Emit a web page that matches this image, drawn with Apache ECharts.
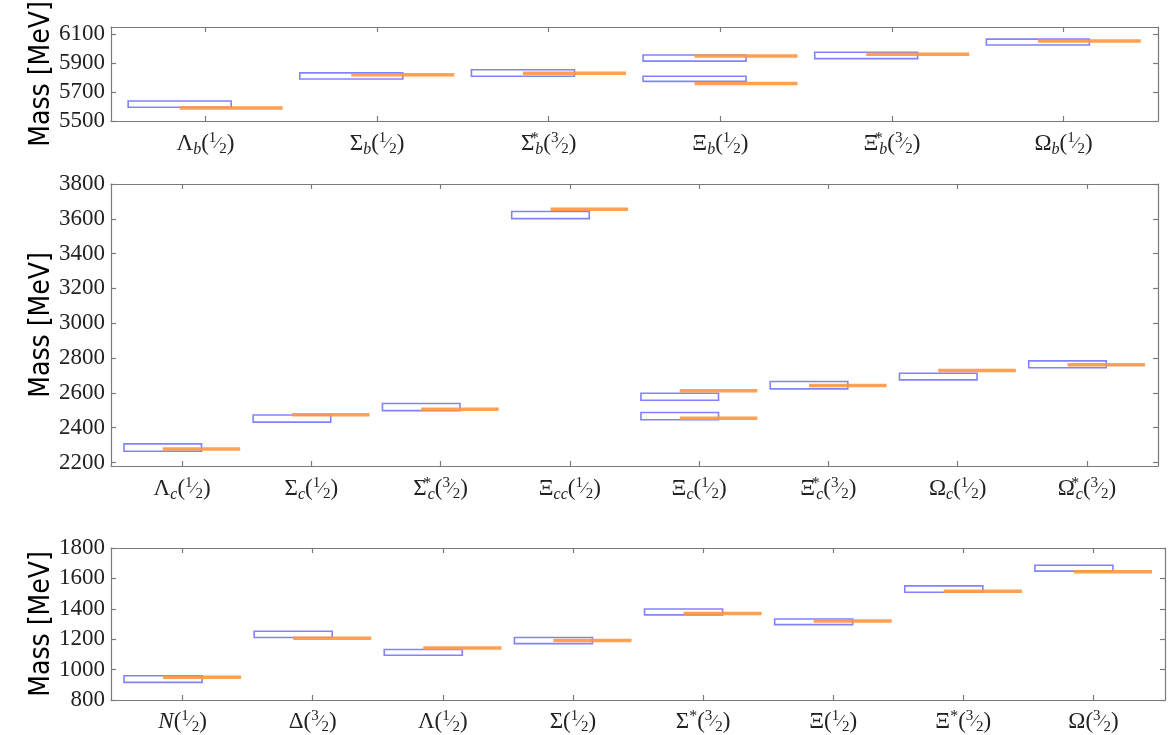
<!DOCTYPE html>
<html>
<head>
<meta charset="utf-8">
<script src="https://cdn.jsdelivr.net/npm/echarts@6/dist/echarts.min.js"></script>
<style>
html,body{margin:0;padding:0;background:#fff;}
#chart{width:1170px;height:735px;}
</style>
</head>
<body>
<div id="chart"></div>
<script>
// ---------- DATA ----------
// Bottom-quark baryons (top panel)
const topLabels = [
  '{g|Λ}{sb|b}{g|(}{n|1}{f|⁄}{d|2}{g|)}',
  '{g|Σ}{sb|b}{g|(}{n|1}{f|⁄}{d|2}{g|)}',
  '{g|Σ}{st|*}{sb|b}{g|(}{n|3}{f|⁄}{d|2}{g|)}',
  '{g|Ξ}{sb|b}{g|(}{n|1}{f|⁄}{d|2}{g|)}',
  '{g|Ξ}{st|*}{sb|b}{g|(}{n|3}{f|⁄}{d|2}{g|)}',
  '{g|Ω}{sb|b}{g|(}{n|1}{f|⁄}{d|2}{g|)}'
];
// lattice bands: [category index, low, high]
const topBands = [[0,5595,5638],[1,5790,5833],[2,5809,5854],[3,5914,5956],[3,5774,5809],[4,5931,5975],[5,6026,6066]];
// experiment: [category index, mass]
const topExp = [[0,5590],[1,5819],[2,5830],[3,5949],[3,5760],[4,5961],[5,6054]];
const topTicks = [5500,5700,5900,6100];

// Charm baryons (middle panel)
const midLabels = [
  '{g|Λ}{sb|c}{g|(}{n|1}{f|⁄}{d|2}{g|)}',
  '{g|Σ}{sb|c}{g|(}{n|1}{f|⁄}{d|2}{g|)}',
  '{g|Σ}{st|*}{sb|c}{g|(}{n|3}{f|⁄}{d|2}{g|)}',
  '{g|Ξ}{sb|cc}{g|(}{n|1}{f|⁄}{d|2}{g|)}',
  '{g|Ξ}{sb|c}{g|(}{n|1}{f|⁄}{d|2}{g|)}',
  '{g|Ξ}{st|*}{sb|c}{g|(}{n|3}{f|⁄}{d|2}{g|)}',
  '{g|Ω}{sb|c}{g|(}{n|1}{f|⁄}{d|2}{g|)}',
  '{g|Ω}{st|*}{sb|c}{g|(}{n|3}{f|⁄}{d|2}{g|)}'
];
const midBands = [[0,2265,2307],[1,2432,2473],[2,2498,2539],[3,3601,3642],[4,2558,2598],[4,2446,2487],[5,2623,2665],[6,2675,2713],[7,2744,2784]];
const midExp = [[0,2278],[1,2475],[2,2506],[3,3655],[4,2613],[4,2455],[5,2642],[6,2729],[7,2761]];
const midTicks = [2200,2400,2600,2800,3000,3200,3400,3600,3800];

// Light baryons (bottom panel)
const botLabels = [
  '{it|N}{g|(}{n|1}{f|⁄}{d|2}{g|)}',
  '{g|Δ(}{n|3}{f|⁄}{d|2}{g|)}',
  '{g|Λ(}{n|1}{f|⁄}{d|2}{g|)}',
  '{g|Σ(}{n|1}{f|⁄}{d|2}{g|)}',
  '{g|Σ}{sp|*}{g|(}{n|3}{f|⁄}{d|2}{g|)}',
  '{g|Ξ(}{n|1}{f|⁄}{d|2}{g|)}',
  '{g|Ξ}{sp|*}{g|(}{n|3}{f|⁄}{d|2}{g|)}',
  '{g|Ω(}{n|3}{f|⁄}{d|2}{g|)}'
];
const botBands = [[0,916,960],[1,1211,1252],[2,1094,1132],[3,1171,1211],[4,1360,1399],[5,1296,1333],[6,1509,1551],[7,1648,1687]];
const botExp = [[0,949],[1,1206],[2,1142],[3,1191],[4,1369],[5,1320],[6,1516],[7,1643]];
const botTicks = [800,1000,1200,1400,1600,1800];

// ---------- STYLE / LAYOUT ----------
const SERIF = 'Liberation Serif';
const AXIS_COLOR = '#7a7a7a';
const BAND_COLOR = '#8282ff';
const EXP_COLOR = '#ff963f';

const rich = {
  g:  {fontFamily: SERIF, fontSize: 23, color: '#222'},
  it: {fontFamily: SERIF, fontSize: 23, fontStyle: 'italic', color: '#222'},
  sb: {fontFamily: SERIF, fontSize: 16, fontStyle: 'italic', color: '#222', padding: [12,0,0,0]},
  st: {fontFamily: SERIF, fontSize: 16, color: '#222', padding: [0,0,10,0], width: 1},
  sp: {fontFamily: SERIF, fontSize: 16, color: '#222', padding: [0,0,10,0]},
  n:  {fontFamily: SERIF, fontSize: 15, color: '#222', padding: [0,0,11,0]},
  f:  {fontFamily: SERIF, fontSize: 17, color: '#222'},
  d:  {fontFamily: SERIF, fontSize: 15, color: '#222', padding: [11,0,0,0]}
};

const panels = [
  {labels: topLabels, bands: topBands, exp: topExp, ticks: topTicks, ymin: 5500, ymax: 6150,
   grid: {left: 111, right: 12, top: 27, height: 94}},
  {labels: midLabels, bands: midBands, exp: midExp, ticks: midTicks, ymin: 2180, ymax: 3800,
   grid: {left: 111, right: 12, top: 184, height: 282}},
  {labels: botLabels, bands: botBands, exp: botExp, ticks: botTicks, ymin: 800, ymax: 1800,
   grid: {left: 111, right: 5, top: 548, height: 152}}
];

const grids = [], xAxes = [], yAxes = [], series = [];
const lineStyle = {color: AXIS_COLOR, width: 1.2};

panels.forEach((p, g) => {
  const n = p.labels.length;
  const idx = p.labels.map((_, i) => i);
  grids.push(Object.assign({containLabel: false, outerBoundsMode: 'none'}, p.grid));
  const xBase = {type: 'value', gridIndex: g, min: -0.55, max: n - 0.45,
    splitLine: {show: false}, axisLine: {show: true, onZero: false, lineStyle}};
  xAxes.push(Object.assign({}, xBase, {
    position: 'bottom',
    axisTick: {show: true, inside: true, length: 5, customValues: idx, lineStyle},
    axisLabel: {show: true, customValues: idx, margin: 9, rich,
      formatter: v => p.labels[Math.round(v)]}
  }));
  xAxes.push(Object.assign({}, xBase, {
    position: 'top',
    axisTick: {show: true, inside: true, length: 5, customValues: idx, lineStyle},
    axisLabel: {show: false}
  }));
  const yBase = {type: 'value', gridIndex: g, min: p.ymin, max: p.ymax,
    splitLine: {show: false}, axisLine: {show: true, onZero: false, lineStyle}};
  yAxes.push(Object.assign({}, yBase, {
    position: 'left',
    axisTick: {show: true, inside: true, length: 5, customValues: p.ticks, lineStyle},
    axisLabel: {show: true, customValues: p.ticks, margin: 6, formatter: v => String(v),
      fontFamily: SERIF, fontSize: 23, color: '#222'},
    name: 'Mass [MeV]', nameLocation: 'middle', nameRotate: 90, nameGap: 55,
    nameMoveOverlap: false,
    nameTextStyle: {fontFamily: 'DejaVu Sans Condensed', fontSize: 28, color: '#000'}
  }));
  yAxes.push(Object.assign({}, yBase, {
    position: 'right',
    axisTick: {show: true, inside: true, length: 5, customValues: p.ticks, lineStyle},
    axisLabel: {show: false}
  }));

  series.push({
    type: 'custom', xAxisIndex: 2 * g, yAxisIndex: 2 * g,
    data: p.bands, encode: {x: 0, y: [1, 2]}, z: 2,
    renderItem: (params, api) => {
      const i = api.value(0), lo = api.value(1), hi = api.value(2);
      const a = api.coord([i - 0.45, hi]);
      const b = api.coord([i + 0.15, lo]);
      return {type: 'rect',
        shape: {x: a[0], y: a[1], width: b[0] - a[0], height: b[1] - a[1]},
        style: {fill: 'rgba(0,0,0,0)', stroke: BAND_COLOR, lineWidth: 1.6}};
    }
  });
  series.push({
    type: 'custom', xAxisIndex: 2 * g, yAxisIndex: 2 * g,
    data: p.exp, encode: {x: 0, y: 1}, z: 3,
    renderItem: (params, api) => {
      const i = api.value(0), m = api.value(1);
      const a = api.coord([i - 0.15, m]);
      const b = api.coord([i + 0.45, m]);
      return {type: 'line',
        shape: {x1: a[0], y1: a[1], x2: b[0], y2: b[1]},
        style: {stroke: EXP_COLOR, lineWidth: 3.5, opacity: 0.9}};
    }
  });
});

const chart = echarts.init(document.getElementById('chart'), null, {renderer: 'canvas'});
chart.setOption({
  backgroundColor: '#fff',
  animation: false,
  grid: grids,
  xAxis: xAxes,
  yAxis: yAxes,
  series: series
});
</script>
</body>
</html>
